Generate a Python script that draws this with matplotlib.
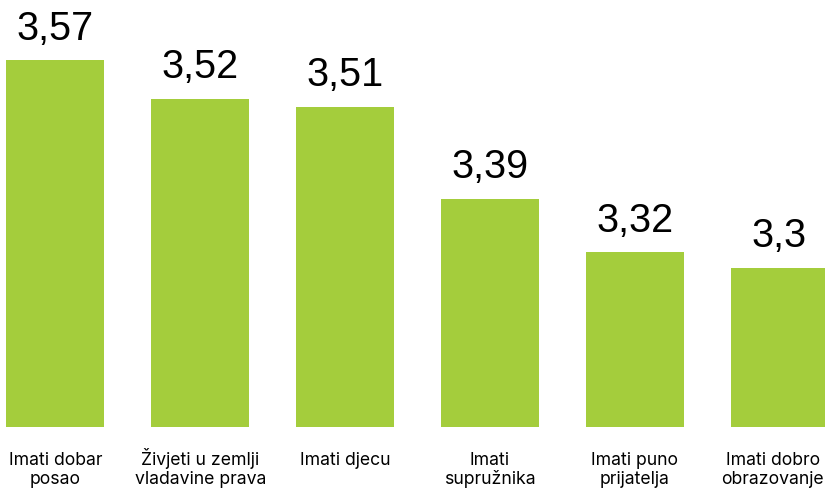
import matplotlib
matplotlib.use("Agg")
import matplotlib.pyplot as plt

# values
categories = ["Imati dobar\nposao", "Živjeti u zemlji\nvladavine prava", "Imati djecu",
              "Imati\nsupružnika", "Imati puno\nprijatelja", "Imati dobro\nobrazovanje"]
values = [3.57, 3.52, 3.51, 3.39, 3.32, 3.3]
value_labels = ["3,57", "3,52", "3,51", "3,39", "3,32", "3,3"]

bar_color = "#A4CD3C"

fig = plt.figure(figsize=(8.25, 4.89), dpi=100)
ax = fig.add_axes([0, 61 / 489, 1, 428 / 489])

x = list(range(len(categories)))
ax.bar(x, values, width=0.677, color=bar_color)

ymin = 3.0927
ax.set_xlim(-0.383, 5.314)
ax.set_ylim(ymin, ymin + 428 / 767.9)
ax.axis("off")

for i, (v, lab) in enumerate(zip(values, value_labels)):
    ax.annotate(lab, (i, v), xytext=(0, 15.5), textcoords="offset points",
                ha="center", va="baseline", fontsize=28.5,
                family="Liberation Sans", color="black")

# category labels, one line at a time so the baselines line up
for i, cat in enumerate(categories):
    dx = -5 if i == len(categories) - 1 else 0
    for j, line in enumerate(cat.split("\n")):
        ax.annotate(line, (i, ymin), xytext=(dx, -27 - 13 * j),
                    textcoords="offset points", ha="center", va="baseline",
                    fontsize=12.7, family="Inter", color="black",
                    annotation_clip=False)

fig.savefig("out.png", dpi=100)
